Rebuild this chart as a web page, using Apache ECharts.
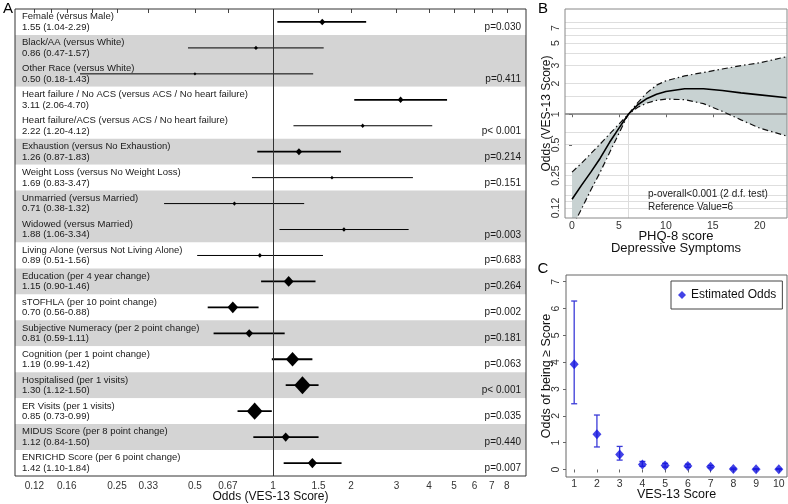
<!DOCTYPE html>
<html><head><meta charset="utf-8">
<script src="https://cdn.jsdelivr.net/npm/echarts@6/dist/echarts.min.js"></script>
<style>html,body{margin:0;padding:0;background:#fff}#c{width:788px;height:504px}</style>
</head><body><div id="c"></div>
<script>
// ---------- Panel A data ----------
const factorNames = ['Female (versus Male)','Black/AA (versus White)','Other Race (versus White)',
  'Heart failure / No ACS (versus ACS / No heart failure)','Heart failure/ACS (versus ACS / No heart failure)',
  'Exhaustion (versus No Exhaustion)','Weight Loss (versus No Weight Loss)','Unmarried (versus Married)',
  'Widowed (versus Married)','Living Alone (versus Not Living Alone)','Education (per 4 year change)',
  'sTOFHLA (per 10 point change)','Subjective Numeracy (per 2 point change)','Cognition (per 1 point change)',
  'Hospitalised (per 1 visits)','ER Visits (per 1 visits)','MIDUS Score (per 8 point change)','ENRICHD Score (per 6 point change)'];
const oddsEst  = [1.55,0.86,0.50,3.11,2.22,1.26,1.69,0.71,1.88,0.89,1.15,0.70,0.81,1.19,1.30,0.85,1.12,1.42];
const oddsLow  = [1.04,0.47,0.18,2.06,1.20,0.87,0.83,0.38,1.06,0.51,0.90,0.56,0.59,0.99,1.12,0.73,0.84,1.10];
const oddsHigh = [2.29,1.57,1.43,4.70,4.12,1.83,3.47,1.32,3.34,1.56,1.46,0.88,1.11,1.42,1.50,0.99,1.50,1.84];
const pValues  = ['p=0.030','','p=0.411','','p< 0.001','p=0.214','p=0.151','','p=0.003','p=0.683','p=0.264',
  'p=0.002','p=0.181','p=0.063','p< 0.001','p=0.035','p=0.440','p=0.007'];
const rowGroup = [0,1,1,2,2,3,4,5,5,6,7,8,9,10,11,12,13,14];
const oddsTicks = [0.12,0.14,0.16,0.2,0.25,0.33,0.5,0.67,1,1.5,2,3,4,5,6,7,8];
const oddsTickLabelsA = ['0.12','','0.16','','0.25','0.33','0.5','0.67','1','1.5','2','3','4','5','6','7','8'];

// ---------- Panel B data ----------
const phqScore = [0,1,2,3,4,5,6,7,8,9,10,12,14,16,18,20,22.9];
const phqOdds  = [0.146,0.20,0.27,0.37,0.53,0.73,1.00,1.24,1.43,1.57,1.67,1.78,1.78,1.71,1.62,1.55,1.45];
const phqUpper = [0.27,0.33,0.41,0.51,0.64,0.80,1.00,1.30,1.63,1.93,2.13,2.38,2.57,2.78,3.00,3.20,3.68];
const phqLower = [0.077,0.117,0.18,0.27,0.42,0.65,1.00,1.17,1.29,1.37,1.41,1.39,1.27,1.07,0.88,0.73,0.61];
const bTickLabelVals = [0.12,0.25,0.5,1,2,3,5,7];
const phqXTicks = [0,5,10,15,20];

// ---------- Panel C data ----------
const vesScore = [1,2,3,4,5,6,7,8,9,10];
const vesOdds  = [3.92,1.31,0.56,0.19,0.15,0.13,0.10,0.02,0.01,0.01];
const vesLow   = [2.45,0.84,0.35,0.12,0.09,0.08,0.06,0.00,0.00,0.00];
const vesHigh  = [6.28,2.03,0.86,0.30,0.23,0.20,0.15,0.05,0.03,0.03];
const vesYTicks = [0,1,2,3,4,5,6,7];

// ---------- build ----------
const LN = Math.log;
const FF = "'Liberation Sans', Arial, Helvetica, sans-serif";
const f2 = v => v.toFixed(2);
const statText = oddsEst.map((e,i)=> f2(e)+' ('+f2(oddsLow[i])+'-'+f2(oddsHigh[i])+')');
const rowColors = rowGroup.map(g => g % 2 ? '#d4d4d4' : '#ffffff');
function labelFor(v, ticks, labels){
  let best=0, bd=1e9;
  ticks.forEach((t,i)=>{const d=Math.abs(LN(t)-v); if(d<bd){bd=d;best=i;}});
  return labels[best];
}
const bLabels = oddsTicks.map(t => bTickLabelVals.indexOf(t) >= 0 ? String(t) : '');
const dashDot = [6,3,1.5,3];

const chart = echarts.init(document.getElementById('c'));
chart.setOption({
  animation:false,
  textStyle:{fontFamily:FF},
  grid:[
    {left:15, top:9, width:511, height:467, outerBoundsMode:'none', containLabel:false, show:true, z:10, backgroundColor:'transparent', borderColor:'#333', borderWidth:1},
    {left:565, top:9, width:222, height:209, outerBoundsMode:'none', containLabel:false, show:true, z:10, backgroundColor:'transparent', borderColor:'#888', borderWidth:1},
    {left:566, top:275, width:221, height:202, outerBoundsMode:'none', containLabel:false, show:true, z:10, backgroundColor:'transparent', borderColor:'#666', borderWidth:1}
  ],
  xAxis:[
    {gridIndex:0, type:'value', min:LN(0.101), max:LN(9.48),
     axisLine:{show:false}, splitLine:{show:false},
     axisTick:{show:true, customValues:oddsTicks.map(LN), length:4, lineStyle:{color:'#444'}},
     axisLabel:{customValues:oddsTicks.map(LN), formatter:v=>labelFor(v,oddsTicks,oddsTickLabelsA), fontSize:10, color:'#333', margin:5, fontFamily:FF},
     name:'Odds (VES-13 Score)', nameLocation:'middle', nameGap:15, nameMoveOverlap:false,
     nameTextStyle:{fontSize:12, color:'#111', fontFamily:FF}},
    {gridIndex:1, type:'value', min:-0.75, max:22.9,
     axisLine:{show:false}, splitLine:{show:false},
     axisTick:{show:true, customValues:phqXTicks, length:3, lineStyle:{color:'#666'}},
     axisLabel:{customValues:phqXTicks, fontSize:10.5, color:'#333', margin:3, fontFamily:FF},
     name:'PHQ-8 score\nDepressive Symptoms', nameLocation:'middle', nameGap:13, nameMoveOverlap:false,
     nameTextStyle:{fontSize:13, lineHeight:11.5, color:'#111', fontFamily:FF}},
    {gridIndex:2, type:'value', min:0.64, max:10.36,
     axisLine:{show:false}, splitLine:{show:false},
     axisTick:{show:true, customValues:vesScore, length:3, lineStyle:{color:'#666'}},
     axisLabel:{customValues:vesScore, fontSize:10.5, color:'#333', margin:2, fontFamily:FF},
     name:'VES-13 Score', nameLocation:'middle', nameGap:11, nameMoveOverlap:false,
     nameTextStyle:{fontSize:12.5, color:'#111', fontFamily:FF}}
  ],
  yAxis:[
    {gridIndex:0, type:'category', inverse:true, data:factorNames,
     axisLine:{show:false}, axisTick:{show:false},
     splitArea:{show:true, interval:0, areaStyle:{color:rowColors}},
     axisLabel:{inside:true, interval:0, align:'left', margin:7, fontSize:9.5, lineHeight:10.5, padding:[0,0,4,0],
       color:'#1a1a1a', fontFamily:FF, formatter:(v,i)=> v+'\n'+statText[i]}},
    {gridIndex:0, type:'category', inverse:true, position:'right', data:factorNames,
     axisLine:{show:false}, axisTick:{show:false}, splitArea:{show:false},
     axisLabel:{inside:true, interval:0, align:'right', margin:5, fontSize:10, lineHeight:10.5, padding:[0,0,4,0],
       color:'#1a1a1a', fontFamily:FF, formatter:(v,i)=> pValues[i] ? ' \n'+pValues[i] : ''}},
    {gridIndex:0, type:'value', inverse:true, min:0, max:factorNames.length, show:false},
    {gridIndex:1, type:'value', min:LN(0.0957), max:LN(10.8),
     axisLine:{show:false}, splitLine:{show:false},
     axisTick:{show:true, customValues:oddsTicks.map(LN), length:3, lineStyle:{color:'#666'}},
     axisLabel:{customValues:bTickLabelVals.map(LN), formatter:v=>labelFor(v,oddsTicks,bLabels), rotate:90,
       fontSize:10.5, color:'#333', margin:3, fontFamily:FF},
     name:'Odds (VES-13 Score)', nameLocation:'middle', nameGap:12, nameMoveOverlap:false,
     nameTextStyle:{fontSize:12, color:'#111', fontFamily:FF}},
    {gridIndex:2, type:'value', min:-0.28, max:7.25,
     axisLine:{show:false}, splitLine:{show:false},
     axisTick:{show:true, customValues:vesYTicks, length:3, lineStyle:{color:'#666'}},
     axisLabel:{customValues:vesYTicks, rotate:90, fontSize:10.5, color:'#333', margin:4, fontFamily:FF},
     name:'Odds of being \u2265 Score', nameLocation:'middle', nameGap:13, nameMoveOverlap:false,
     nameTextStyle:{fontSize:12.5, color:'#111', fontFamily:FF}}
  ],
  legend:{data:[{name:'Estimated Odds', icon:'diamond'}], left:671, top:281, itemWidth:8, itemHeight:8,
    padding:[8,6,8,7], borderColor:'#444', borderWidth:1, backgroundColor:'#fff', selectedMode:false,
    textStyle:{fontSize:12, color:'#111', fontFamily:FF}},
  series:[
    // Panel A forest plot (rows placed at the centre of each category band)
    {type:'custom', xAxisIndex:0, yAxisIndex:2, z:3,
     data: oddsEst.map((e,i)=>[LN(oddsLow[i]), LN(oddsHigh[i]), LN(e), i + 0.5]),
     encode:{x:[0,1,2], y:3},
     renderItem:(params, api)=>{
       const y = api.value(3);
       const lo = api.coord([api.value(0), y]);
       const hi = api.coord([api.value(1), y]);
       const c  = api.coord([api.value(2), y]);
       const s = Math.max(3, 4.8/(api.value(1)-api.value(0)));
       const lw = s >= 5.5 ? 1.8 : 1;
       return {type:'group', children:[
         {type:'line', shape:{x1:lo[0], y1:lo[1], x2:hi[0], y2:hi[1]}, style:{stroke:'#000', lineWidth:lw}},
         {type:'polygon', shape:{points:[[c[0]-s/2,c[1]],[c[0],c[1]-s*0.55],[c[0]+s/2,c[1]],[c[0],c[1]+s*0.55]]}, style:{fill:'#000'}}
       ]};
     },
     markLine:{silent:true, symbol:'none', label:{show:false}, z:4, lineStyle:{color:'#333', width:1, type:'solid'}, data:[{xAxis:0}]}
    },
    // Panel B: confidence band as one polygon between the lower and upper bounds
    {type:'custom', xAxisIndex:1, yAxisIndex:3, z:2, clip:true,
     data: phqScore.map((x,i)=>[x, LN(phqLower[i]), LN(phqUpper[i])]),
     encode:{x:0, y:[1,2]},
     renderItem:(params, api)=>{
       if (params.dataIndexInside !== 0) return null;
       const n = params.dataInsideLength;
       const lowPts = [], upPts = [];
       for (let j=0; j<n; j++){
         const x = api.value(0, j);
         lowPts.push(api.coord([x, api.value(1, j)]));
         upPts.push(api.coord([x, api.value(2, j)]));
       }
       return {type:'polygon', shape:{points: lowPts.concat(upPts.reverse())}, style:{fill:'#c8d2d2'}};
     },
     markLine:{silent:true, symbol:'none', label:{show:false}, z:3,
       data:[
         {yAxis:0, lineStyle:{color:'#7a7a7a', width:1.6, type:'solid'}},
         [{coord:[6, LN(0.0957)], lineStyle:{color:'#dcdcdc', width:1, type:'solid'}}, {coord:[6, 0]}]
       ]}
    },
    {type:'line', name:'lower', xAxisIndex:1, yAxisIndex:3, z:4,
     data: phqScore.map((x,i)=>[x, LN(phqLower[i])]), symbol:'none',
     lineStyle:{color:'#111', width:1.2, type:dashDot}},
    {type:'line', name:'upper', xAxisIndex:1, yAxisIndex:3, z:4,
     data: phqScore.map((x,i)=>[x, LN(phqUpper[i])]), symbol:'none',
     lineStyle:{color:'#111', width:1.2, type:dashDot}},
    {type:'line', name:'estimate', xAxisIndex:1, yAxisIndex:3, z:5,
     data: phqScore.map((x,i)=>[x, LN(phqOdds[i])]), symbol:'none',
     lineStyle:{color:'#000', width:1.6},
     markLine:{silent:true, symbol:'none', label:{show:false}, z:1,
       lineStyle:{color:'#dedede', width:1, type:'solid'},
       data: oddsTicks.filter(t=>t!==1).map(t=>({yAxis:LN(t)}))}
    },
    // Panel C
    {type:'custom', xAxisIndex:2, yAxisIndex:4, z:3,
     data: vesScore.map((x,i)=>[x, vesLow[i], vesHigh[i]]),
     encode:{x:0, y:[1,2]},
     renderItem:(params, api)=>{
       const x = api.value(0);
       const a = api.coord([x, api.value(1)]);
       const b = api.coord([x, api.value(2)]);
       const st = {stroke:'#3a3ad8', lineWidth:1.3};
       return {type:'group', children:[
         {type:'line', shape:{x1:a[0], y1:a[1], x2:b[0], y2:b[1]}, style:st},
         {type:'line', shape:{x1:a[0]-3, y1:a[1], x2:a[0]+3, y2:a[1]}, style:st},
         {type:'line', shape:{x1:b[0]-3, y1:b[1], x2:b[0]+3, y2:b[1]}, style:st}
       ]};
     }
    },
    {type:'scatter', name:'Estimated Odds', xAxisIndex:2, yAxisIndex:4, z:4,
     data: vesScore.map((x,i)=>[x, vesOdds[i]]), symbol:'diamond', symbolSize:[9,10],
     itemStyle:{color:'#1414e0'}}
  ],
  graphic:[
    {type:'text', x:8, y:9, style:{text:'A', fontSize:15, fontFamily:FF, fill:'#000', align:'center', verticalAlign:'middle'}},
    {type:'text', x:543, y:9, style:{text:'B', fontSize:15, fontFamily:FF, fill:'#000', align:'center', verticalAlign:'middle'}},
    {type:'text', x:543, y:269, style:{text:'C', fontSize:15, fontFamily:FF, fill:'#000', align:'center', verticalAlign:'middle'}},
    {type:'text', x:648, y:194, z:20, style:{text:'p-overall<0.001 (2 d.f. test)', fontSize:10, fontFamily:FF, fill:'#222', align:'left', verticalAlign:'middle'}},
    {type:'text', x:648, y:207, z:20, style:{text:'Reference Value=6', fontSize:10, fontFamily:FF, fill:'#222', align:'left', verticalAlign:'middle'}}
  ]
});
</script></body></html>
